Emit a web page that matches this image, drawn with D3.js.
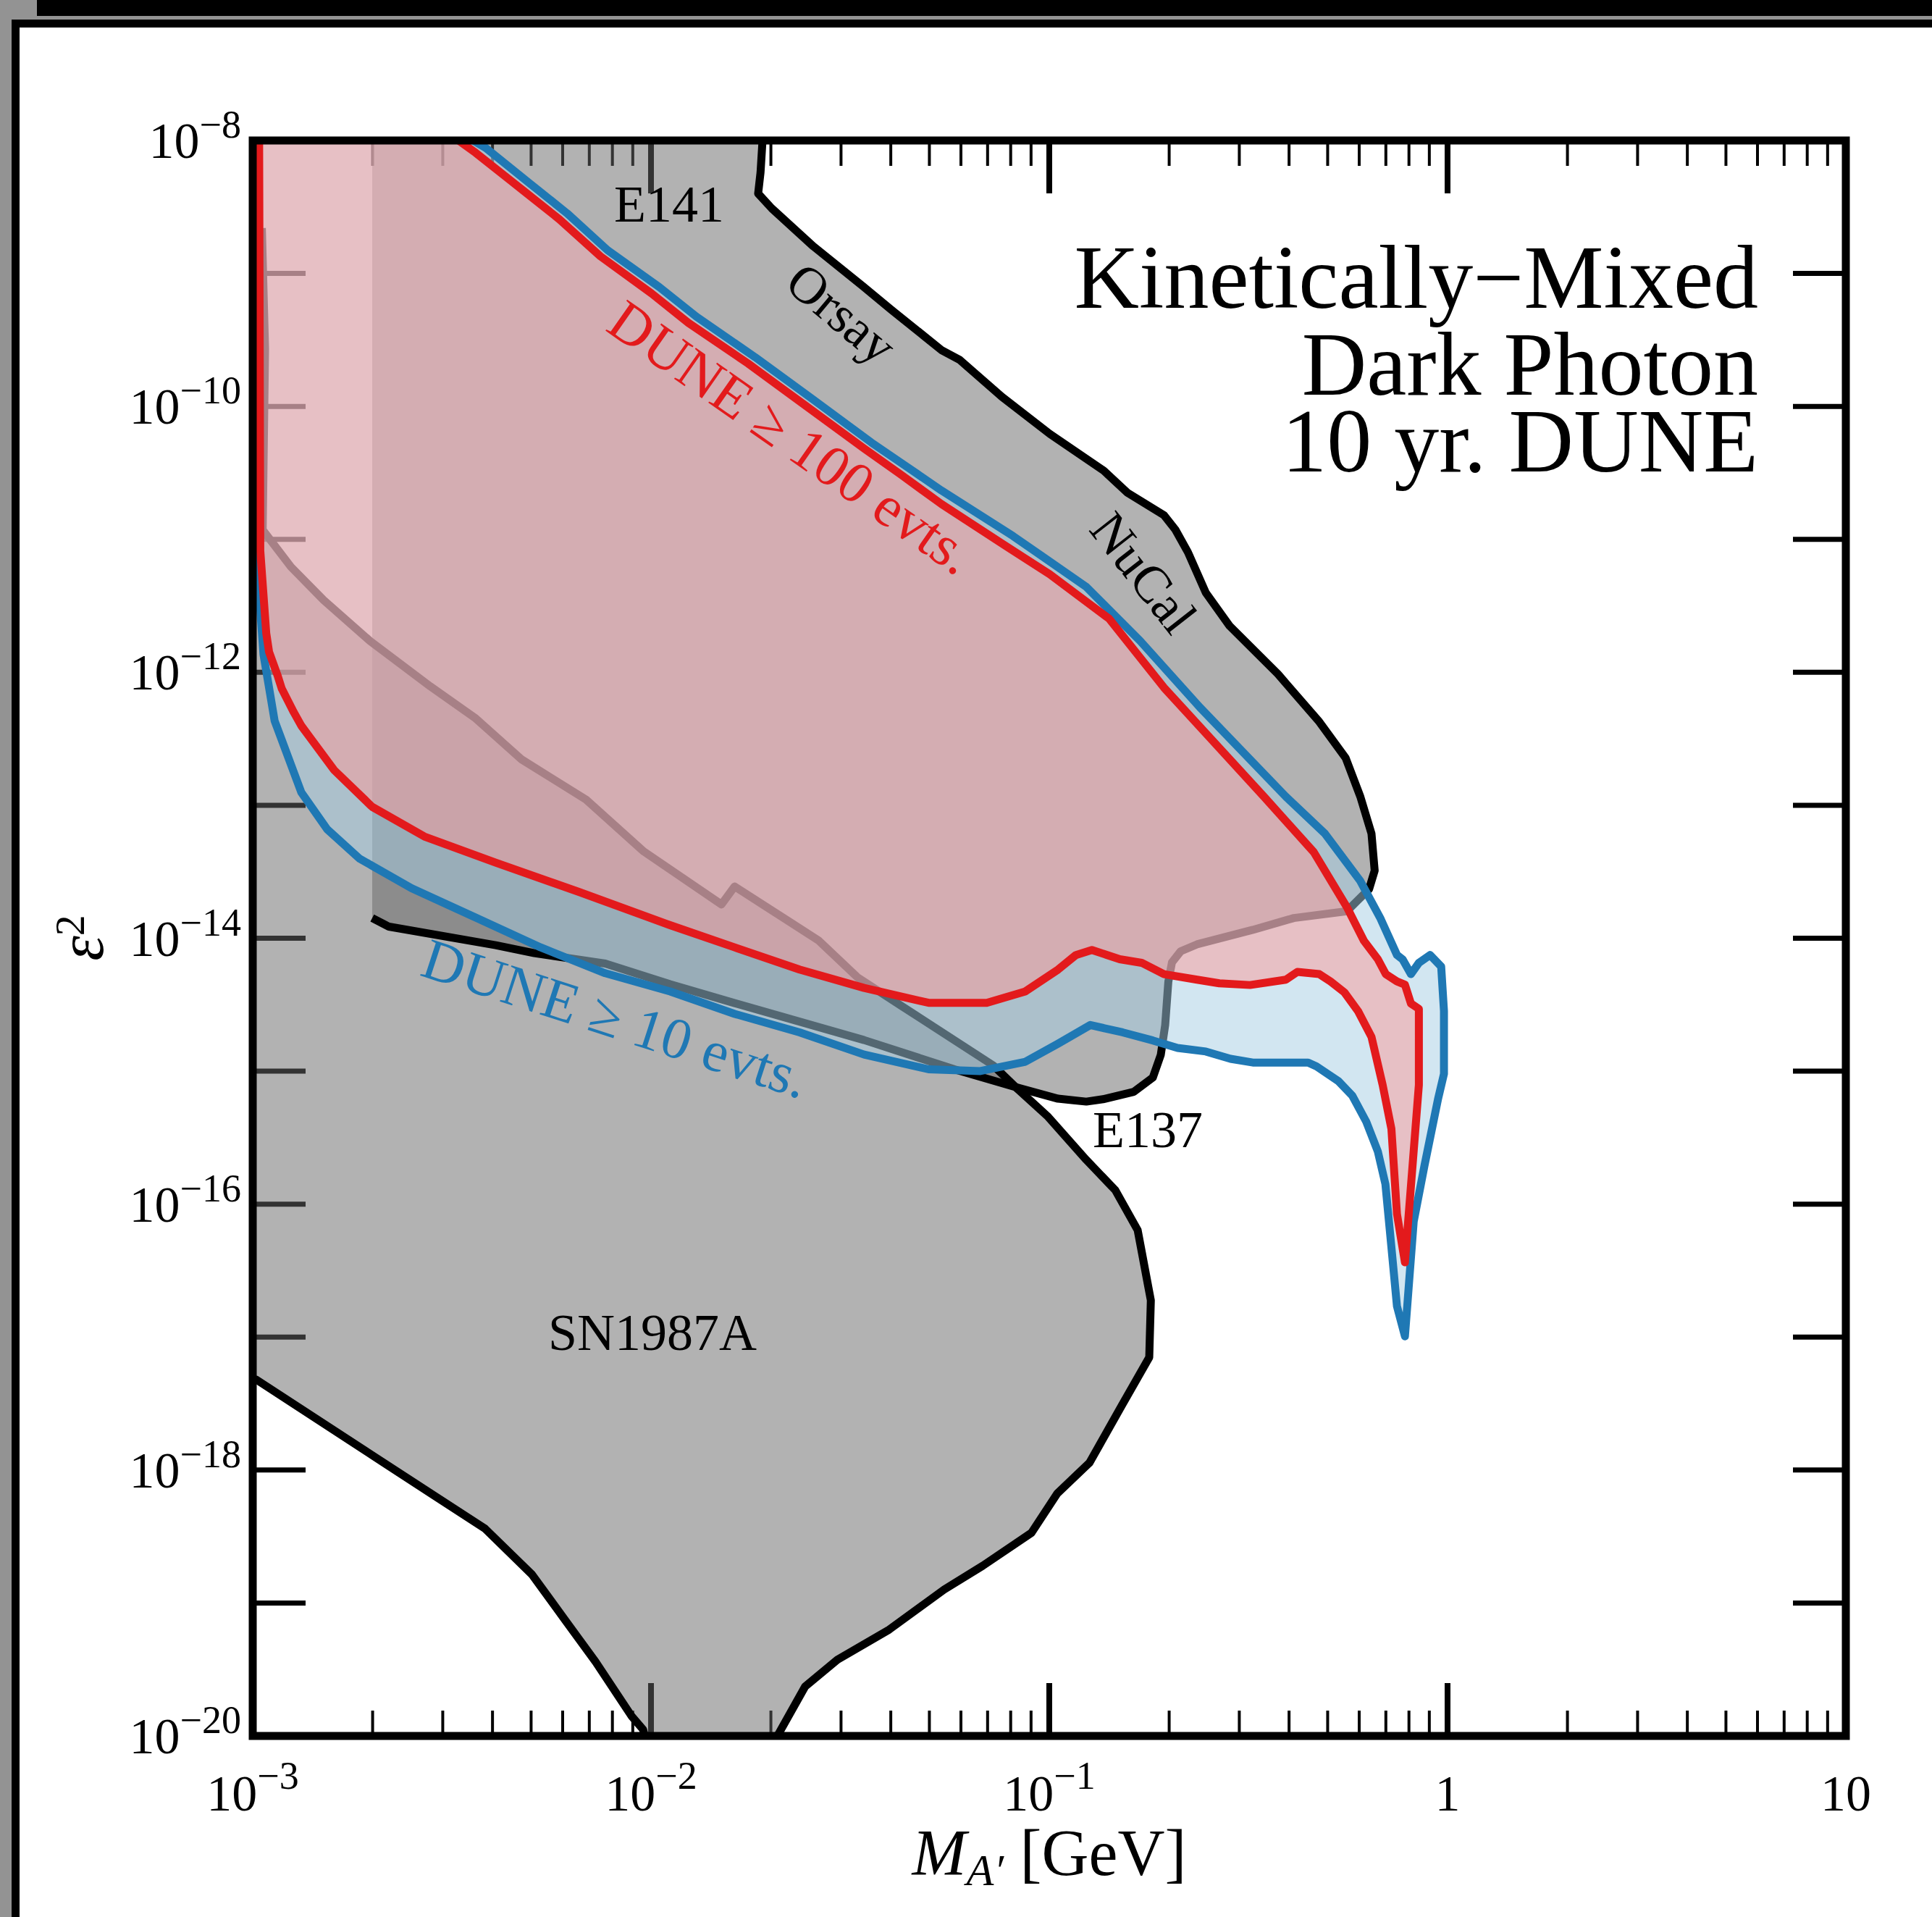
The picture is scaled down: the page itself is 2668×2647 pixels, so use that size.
<!DOCTYPE html>
<html>
<head>
<meta charset="utf-8">
<script src="https://cdn.jsdelivr.net/npm/d3@7"></script>
<style>
  html, body { margin: 0; padding: 0; background: #fff; }
  svg { display: block; }
  text { font-family: "Liberation Serif", "DejaVu Serif", serif; }
</style>
</head>
<body>
<div id="chart"></div>
<script>
// Kinetically-mixed dark photon reach, 10 yr. DUNE
// every point is [log10(M_A' / GeV), log10(eps^2)]

// E141 / Orsay / NuCal / E137 bound (one merged region, starts at 2 MeV)
const beamDumpEdge = -2.7;
const beamDumpOutline = [
  [-1.719, -7.9], [-1.720, -8.000], [-1.725, -8.241], [-1.731, -8.399], [-1.697, -8.510],
  [-1.592, -8.797], [-1.469, -9.094], [-1.396, -9.274], [-1.271, -9.576], [-1.225, -9.650],
  [-1.119, -9.928], [-0.999, -10.206], [-0.863, -10.484], [-0.803, -10.651], [-0.712, -10.818],
  [-0.683, -10.929], [-0.652, -11.096], [-0.607, -11.401], [-0.547, -11.652], [-0.426, -12.013],
  [-0.324, -12.365], [-0.256, -12.643], [-0.219, -12.935], [-0.191, -13.213], [-0.183, -13.491],
  [-0.197, -13.630], [-0.253, -13.797], [-0.386, -13.848], [-0.489, -13.937], [-0.629, -14.046],
  [-0.670, -14.098], [-0.692, -14.182], [-0.701, -14.325], [-0.709, -14.654], [-0.720, -14.877],
  [-0.740, -15.048], [-0.788, -15.155], [-0.865, -15.211], [-0.907, -15.229], [-0.978, -15.207],
  [-1.076, -15.127], [-1.238, -14.986], [-1.465, -14.766], [-1.790, -14.488], [-1.952, -14.346],
  [-2.115, -14.191], [-2.293, -14.112], [-2.390, -14.052], [-2.658, -13.913], [-2.700, -13.848]
];

// SN1987A cooling bound
const snUpper = [
  [-2.977, -8.658], [-2.969, -9.566], [-2.975, -10.929], [-2.904, -11.207], [-2.822, -11.457],
  [-2.706, -11.763], [-2.554, -12.106], [-2.440, -12.347], [-2.326, -12.653], [-2.163, -12.958],
  [-2.018, -13.348], [-1.823, -13.746], [-1.790, -13.611], [-1.710, -13.765], [-1.580, -14.015],
  [-1.482, -14.293], [-1.368, -14.515], [-1.141, -14.956], [-1.078, -15.138], [-1.005, -15.337],
  [-0.907, -15.667], [-0.834, -15.896], [-0.778, -16.196], [-0.745, -16.724], [-0.749, -17.152],
  [-0.818, -17.515], [-0.899, -17.945], [-0.980, -18.176], [-1.045, -18.473], [-1.167, -18.720],
  [-1.264, -18.899], [-1.402, -19.200], [-1.532, -19.427], [-1.613, -19.628], [-1.692, -20.05]
];
const snLower = [
  [-2.011, -20.05], [-2.020, -19.951], [-2.048, -19.854], [-2.139, -19.443], [-2.215, -19.131],
  [-2.299, -18.785], [-2.417, -18.440], [-2.536, -18.209], [-2.991, -17.320], [-3.01, -17.305]
];

// DUNE >= 10 events contour
const dune10 = [
  [-2.991, -7.9], [-2.988, -11.241], [-2.973, -11.865], [-2.945, -12.365], [-2.878, -12.903],
  [-2.813, -13.181], [-2.732, -13.401], [-2.601, -13.624], [-2.440, -13.845], [-2.277, -14.069],
  [-2.115, -14.263], [-1.952, -14.400], [-1.790, -14.569], [-1.627, -14.708], [-1.465, -14.875],
  [-1.303, -14.986], [-1.173, -14.999], [-1.060, -14.929], [-0.978, -14.793], [-0.897, -14.653],
  [-0.816, -14.708], [-0.740, -14.769], [-0.678, -14.825], [-0.607, -14.852], [-0.545, -14.907],
  [-0.489, -14.935], [-0.350, -14.935], [-0.329, -14.964], [-0.274, -15.075], [-0.239, -15.185],
  [-0.204, -15.381], [-0.175, -15.604], [-0.156, -15.850], [-0.141, -16.323], [-0.127, -16.768],
  [-0.107, -16.994], [-0.085, -16.131], [-0.058, -15.711], [-0.024, -15.211], [-0.009, -15.020],
  [-0.009, -14.547], [-0.016, -14.213], [-0.044, -14.126], [-0.072, -14.185], [-0.092, -14.270],
  [-0.113, -14.158], [-0.127, -14.126], [-0.169, -13.848], [-0.219, -13.570], [-0.308, -13.213],
  [-0.406, -12.935], [-0.622, -12.263], [-0.772, -11.763], [-0.908, -11.355], [-1.091, -10.975],
  [-1.271, -10.632], [-1.357, -10.455], [-1.447, -10.271], [-1.598, -9.937], [-1.738, -9.631],
  [-1.886, -9.325], [-1.979, -9.103], [-2.109, -8.825], [-2.211, -8.547], [-2.304, -8.324],
  [-2.415, -8.056], [-2.446, -8.000], [-2.48, -7.9]
];

// DUNE >= 100 events contour
const dune100 = [
  [-2.984, -7.9], [-2.981, -11.086], [-2.966, -11.707], [-2.959, -11.846], [-2.938, -12.020],
  [-2.927, -12.124], [-2.897, -12.300], [-2.878, -12.402], [-2.796, -12.734], [-2.700, -13.012],
  [-2.569, -13.235], [-2.390, -13.431], [-2.180, -13.653], [-1.952, -13.902], [-1.790, -14.069],
  [-1.627, -14.236], [-1.465, -14.374], [-1.303, -14.486], [-1.157, -14.486], [-1.060, -14.400],
  [-0.978, -14.236], [-0.933, -14.126], [-0.893, -14.089], [-0.823, -14.158], [-0.768, -14.185],
  [-0.712, -14.270], [-0.629, -14.312], [-0.573, -14.339], [-0.496, -14.352], [-0.406, -14.312],
  [-0.377, -14.253], [-0.322, -14.270], [-0.294, -14.325], [-0.259, -14.407], [-0.225, -14.547],
  [-0.191, -14.742], [-0.163, -15.103], [-0.141, -15.433], [-0.127, -16.075], [-0.107, -16.438],
  [-0.072, -15.103], [-0.072, -14.531], [-0.092, -14.491], [-0.107, -14.349], [-0.127, -14.325],
  [-0.155, -14.270], [-0.175, -14.158], [-0.210, -14.019], [-0.253, -13.765], [-0.336, -13.352],
  [-0.461, -12.935], [-0.712, -12.115], [-0.850, -11.596], [-0.999, -11.262], [-1.119, -11.031],
  [-1.271, -10.734], [-1.373, -10.512], [-1.465, -10.317], [-1.617, -9.983], [-1.756, -9.678],
  [-1.906, -9.372], [-1.999, -9.149], [-2.127, -8.871], [-2.230, -8.593], [-2.323, -8.371],
  [-2.440, -8.093], [-2.483, -8.000], [-2.52, -7.9]
];

// axis ticks and labels
const xMajor = [1e-3, 1e-2, 1e-1, 1, 10];
const xLabels = [["10", "−3"], ["10", "−2"], ["10", "−1"], ["1", ""], ["10", ""]];
const xMinor = d3.range(-3, 1).flatMap(e => d3.range(2, 10).map(k => k * Math.pow(10, e)));
const yExponents = d3.range(-8, -21, -1);
const yLabelExponents = [-8, -10, -12, -14, -16, -18, -20];

const titleLines = ["Kinetically−Mixed", "Dark Photon", "10 yr. DUNE"];

const W = 2668, H = 2647;
const plotLeft = 349, plotRight = 2549, plotTop = 194, plotBottom = 2397;

const svg = d3.select('#chart')
  .append('svg')
  .attr('width', W)
  .attr('height', H)
  .attr('viewBox', [0, 0, W, H]);

// screenshot frame around the figure
svg.append('rect').attr('x', 0).attr('y', 0).attr('width', W).attr('height', H).attr('fill', '#fff');
svg.append('rect').attr('x', 0).attr('y', 0).attr('width', 16).attr('height', H).attr('fill', '#939393');
svg.append('rect').attr('x', 0).attr('y', 0).attr('width', 51).attr('height', 22).attr('fill', '#939393');
svg.append('rect').attr('x', 0).attr('y', 22).attr('width', W).attr('height', 5).attr('fill', '#939393');
svg.append('rect').attr('x', 51).attr('y', 0).attr('width', W - 51).attr('height', 22).attr('fill', '#000');
svg.append('rect').attr('x', 16).attr('y', 27).attr('width', W - 16).attr('height', 11).attr('fill', '#000');
svg.append('rect').attr('x', 16).attr('y', 27).attr('width', 11).attr('height', H - 27).attr('fill', '#000');

const x = d3.scaleLog().domain([1e-3, 10]).range([plotLeft, plotRight]);
const y = d3.scaleLog().domain([1e-8, 1e-20]).range([plotTop, plotBottom]);

const px = d => x(Math.pow(10, d[0]));
const py = d => y(Math.pow(10, d[1]));
const line = d3.line().x(px).y(py);

svg.append('defs').append('clipPath')
  .attr('id', 'plotClip')
  .append('rect')
  .attr('x', plotLeft).attr('y', plotTop)
  .attr('width', plotRight - plotLeft).attr('height', plotBottom - plotTop);

// ticks sit underneath the shaded regions
const ticks = svg.append('g').attr('stroke', '#000');
xMinor.forEach(v => {
  ticks.append('line').attr('x1', x(v)).attr('x2', x(v)).attr('y1', plotBottom).attr('y2', plotBottom - 35).attr('stroke-width', 4);
  ticks.append('line').attr('x1', x(v)).attr('x2', x(v)).attr('y1', plotTop).attr('y2', plotTop + 35).attr('stroke-width', 4);
});
xMajor.forEach(v => {
  ticks.append('line').attr('x1', x(v)).attr('x2', x(v)).attr('y1', plotBottom).attr('y2', plotBottom - 73).attr('stroke-width', 8);
  ticks.append('line').attr('x1', x(v)).attr('x2', x(v)).attr('y1', plotTop).attr('y2', plotTop + 73).attr('stroke-width', 8);
});
yExponents.forEach(e => {
  const v = Math.pow(10, e);
  ticks.append('line').attr('x1', plotLeft).attr('x2', plotLeft + 73).attr('y1', y(v)).attr('y2', y(v)).attr('stroke-width', 7);
  ticks.append('line').attr('x1', plotRight).attr('x2', plotRight - 73).attr('y1', y(v)).attr('y2', y(v)).attr('stroke-width', 7);
});

const plot = svg.append('g').attr('clip-path', 'url(#plotClip)');

// excluded regions
const beamDumpRegion = [[beamDumpEdge, -7.9]].concat(beamDumpOutline);
const snRegion = snUpper.concat(snLower, [[-3.01, -8.658]]);

plot.append('path')
  .attr('d', line(beamDumpRegion) + 'Z')
  .attr('fill', '#666').attr('fill-opacity', 0.5);
plot.append('path')
  .attr('d', line(snRegion) + 'Z')
  .attr('fill', '#666').attr('fill-opacity', 0.5);

[beamDumpOutline, snUpper, snLower].forEach(pts => {
  plot.append('path')
    .attr('d', line(pts))
    .attr('fill', 'none')
    .attr('stroke', '#000')
    .attr('stroke-width', 11)
    .attr('stroke-linejoin', 'round');
});

// DUNE sensitivity
plot.append('path').attr('d', line(dune10) + 'Z').attr('fill', '#a6cee3').attr('fill-opacity', 0.5);
plot.append('path').attr('d', line(dune100) + 'Z').attr('fill', '#fb9a99').attr('fill-opacity', 0.5);
plot.append('path').attr('d', line(dune10) + 'Z').attr('fill', 'none')
  .attr('stroke', '#1f78b4').attr('stroke-width', 11).attr('stroke-linejoin', 'round');
plot.append('path').attr('d', line(dune100) + 'Z').attr('fill', 'none')
  .attr('stroke', '#e31a1c').attr('stroke-width', 11).attr('stroke-linejoin', 'round');

// region labels
const labels = svg.append('g');
labels.append('text').attr('x', 848).attr('y', 306).attr('font-size', 72).text('E141');
labels.append('text').attr('x', 1509).attr('y', 1584).attr('font-size', 72).text('E137');
labels.append('text').attr('x', 757).attr('y', 1864).attr('font-size', 72).text('SN1987A');

function rotated(cx, cy, angle, txt, color, size, dy) {
  labels.append('text')
    .attr('transform', `translate(${cx},${cy}) rotate(${angle})`)
    .attr('text-anchor', 'middle')
    .attr('dy', dy)
    .attr('font-size', size)
    .attr('fill', color)
    .text(txt);
}
rotated(1163, 432, 40, 'Orsay', '#000', 72, '0.35em');
rotated(1580, 790, 52, 'NuCal', '#000', 72, '0.35em');
rotated(1078, 626, 35, 'DUNE  ≥ 100 evts.', '#e31a1c', 80, 0);
rotated(842, 1432, 18, 'DUNE  ≥ 10 evts.', '#1f78b4', 80, 0);

// title, one text block
const titleBase = [425, 545, 651];
const title = labels.append('text')
  .attr('text-anchor', 'end')
  .attr('font-size', 124);
titleLines.forEach((t, i) => {
  title.append('tspan').attr('x', 2428).attr('y', titleBase[i]).text(t);
});

// border
svg.append('rect')
  .attr('x', plotLeft).attr('y', plotTop)
  .attr('width', plotRight - plotLeft).attr('height', plotBottom - plotTop)
  .attr('fill', 'none').attr('stroke', '#000').attr('stroke-width', 11);

// tick labels
xMajor.forEach((v, i) => {
  const t = svg.append('text')
    .attr('x', x(v)).attr('y', 2500)
    .attr('text-anchor', 'middle')
    .attr('font-size', 70);
  t.append('tspan').text(xLabels[i][0]);
  if (xLabels[i][1]) {
    t.append('tspan').attr('font-size', 54).attr('dy', -30).text(xLabels[i][1]);
  }
});
yLabelExponents.forEach(e => {
  const t = svg.append('text')
    .attr('x', 333).attr('y', y(Math.pow(10, e)) + 24)
    .attr('text-anchor', 'end')
    .attr('font-size', 70);
  t.append('tspan').text('10');
  t.append('tspan').attr('font-size', 54).attr('dy', -28).text('−' + Math.abs(e));
});

// axis titles
const xt = svg.append('text')
  .attr('x', (plotLeft + plotRight) / 2).attr('y', 2589)
  .attr('text-anchor', 'middle')
  .attr('font-size', 90);
xt.append('tspan').attr('font-style', 'italic').text('M');
xt.append('tspan').attr('font-style', 'italic').attr('font-size', 62).attr('dy', 14).text('A′');
xt.append('tspan').attr('dy', -14).text('  [GeV]');

const yt = svg.append('text')
  .attr('transform', 'translate(142,1295) rotate(-90)')
  .attr('text-anchor', 'middle')
  .attr('font-size', 88);
yt.append('tspan').attr('font-style', 'italic').text('ε');
yt.append('tspan').attr('font-size', 58).attr('dy', -26).text('2');
</script>
</body>
</html>
